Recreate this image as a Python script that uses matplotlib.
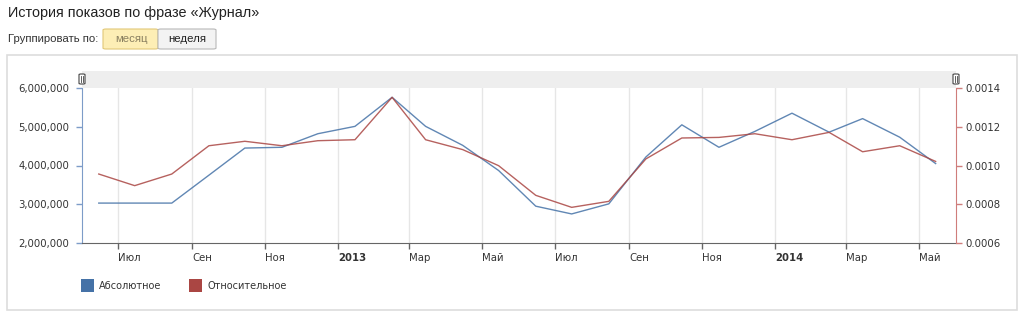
import datetime as dt
import matplotlib
matplotlib.use('Agg')
import matplotlib.pyplot as plt
import matplotlib.transforms as mtransforms
from matplotlib.patches import Rectangle, FancyBboxPatch

# monthly data, Jun 2012 .. May 2014 (points at mid month)
months = [(2012, m) for m in range(6, 13)] + [(2013, m) for m in range(1, 13)] + [(2014, m) for m in range(1, 6)]
absolute = [3.03e6, 3.03e6, 3.03e6, 3.75e6, 4.45e6, 4.47e6, 4.82e6,
            5.01e6, 5.76e6, 5.01e6, 4.52e6, 3.87e6, 2.95e6, 2.75e6,
            3.01e6, 4.22e6, 5.05e6, 4.47e6, 4.88e6, 5.35e6, 4.86e6,
            5.21e6, 4.73e6, 4.05e6]
relative = [0.000956, 0.000896, 0.000956, 0.001102, 0.001125, 0.001102, 0.001128,
            0.001133, 0.001352, 0.001133, 0.001082, 0.000999, 0.000846, 0.000784,
            0.000815, 0.001034, 0.001142, 0.001145, 0.001164, 0.001133, 0.001171,
            0.001071, 0.001102, 0.001021]

tick_months = [(2012, 7), (2012, 9), (2012, 11), (2013, 1), (2013, 3), (2013, 5),
               (2013, 7), (2013, 9), (2013, 11), (2014, 1), (2014, 3), (2014, 5)]
tick_labels = ['Июл', 'Сен', 'Ноя', '2013', 'Мар', 'Май',
               'Июл', 'Сен', 'Ноя', '2014', 'Мар', 'Май']
left_ticks = [2e6, 3e6, 4e6, 5e6, 6e6]
right_ticks = [0.0006, 0.0008, 0.0010, 0.0012, 0.0014]

dates = [dt.datetime(y, m, 15) for y, m in months]
tick_dates = [dt.datetime(y, m, 1) for y, m in tick_months]

BLUE = '#4572A7'
RED = '#AA4643'
W, H = 1024, 318

fig = plt.figure(figsize=(W / 100, H / 100), dpi=100)
fig.patch.set_facecolor('white')

def fx(px):
    return px / W

def fy(py):
    return 1 - py / H

# header
fig.text(fx(8), fy(13), 'История показов по фразе «Журнал»', fontsize=10.4,
         family='Liberation Sans', color='#222222', va='center', ha='left')
fig.text(fx(8), fy(39), 'Группировать по:', fontsize=8.2,
         family='Liberation Sans', color='#333333', va='center', ha='left')
fig.patches.append(FancyBboxPatch((fx(103), fy(49)), fx(55), 20 / H,
                                  boxstyle='round,pad=0,rounding_size=0.003',
                                  transform=fig.transFigure, facecolor='#fdeeb5',
                                  edgecolor='#e2c878', lw=0.8))
fig.patches.append(FancyBboxPatch((fx(158), fy(49)), fx(58), 20 / H,
                                  boxstyle='round,pad=0,rounding_size=0.003',
                                  transform=fig.transFigure, facecolor='#f3f3f3',
                                  edgecolor='#b8b8b8', lw=0.8))
fig.text(fx(131), fy(39), 'месяц', fontsize=8.2, family='Liberation Sans',
         color='#8a8060', va='center', ha='center')
fig.text(fx(187), fy(39), 'неделя', fontsize=8.2, family='Liberation Sans',
         color='#222222', va='center', ha='center')

# panel border
fig.patches.append(Rectangle((fx(7), fy(310)), fx(1010), (310 - 55) / H,
                             transform=fig.transFigure, facecolor='none',
                             edgecolor='#dddddd', lw=1.2))

# navigator band at the top of the plot
fig.patches.append(Rectangle((fx(82), fy(88)), fx(874), 17 / H,
                             transform=fig.transFigure, facecolor='#eeeeee',
                             edgecolor='none'))
for hx in [82, 956]:
    fig.patches.append(FancyBboxPatch((fx(hx - 3), fy(84)), fx(6), 10 / H,
                                      boxstyle='round,pad=0,rounding_size=0.002',
                                      transform=fig.transFigure, facecolor='white',
                                      edgecolor='#444444', lw=0.8))
    fig.lines.append(plt.Line2D([fx(hx - 0.8), fx(hx - 0.8)], [fy(82), fy(76)],
                                transform=fig.transFigure, color='#444444', lw=0.6))
    fig.lines.append(plt.Line2D([fx(hx + 0.8), fx(hx + 0.8)], [fy(82), fy(76)],
                                transform=fig.transFigure, color='#444444', lw=0.6))

ax = fig.add_axes([fx(82), fy(243), fx(956 - 82), (243 - 88) / H])
ax2 = ax.twinx()

ax.plot(dates, absolute, color=BLUE, lw=1, alpha=0.85)
ax2.plot(dates, relative, color=RED, lw=1, alpha=0.85)

ax.set_xlim(dt.datetime(2012, 6, 1), dt.datetime(2014, 6, 1))
ax.set_ylim(2e6, 6e6)
ax2.set_ylim(0.0006, 0.0014)

ax.set_xticks(tick_dates)
ax.set_xticklabels(tick_labels)
shift = mtransforms.ScaledTranslation(2 / 100, 0, fig.dpi_scale_trans)
for lbl in ax.get_xticklabels():
    lbl.set_horizontalalignment('left')
    lbl.set_transform(lbl.get_transform() + shift)
    if lbl.get_text().isdigit():
        lbl.set_fontweight('bold')
ax.grid(axis='x', color='#e6e6e6', lw=1)
ax.set_axisbelow(True)

ax.set_yticks(left_ticks)
ax.set_yticklabels(['{:,.0f}'.format(v) for v in left_ticks])
ax2.set_yticks(right_ticks)
ax2.set_yticklabels(['{:.4f}'.format(v) for v in right_ticks])

for a in (ax, ax2):
    a.spines['top'].set_visible(False)
    a.tick_params(labelsize=7.3, labelcolor='#333333', length=4, width=1)
ax.spines['left'].set_color('#7d9cc8')
ax.spines['right'].set_visible(False)
ax2.spines['left'].set_visible(False)
ax2.spines['bottom'].set_visible(False)
ax2.spines['right'].set_color('#cf7d7b')
ax.spines['bottom'].set_color('#666666')
ax.tick_params(axis='x', colors='#666666', labelcolor='#333333', pad=3)
ax.tick_params(axis='y', colors='#7d9cc8', labelcolor='#333333', pad=5)
ax2.tick_params(axis='y', colors='#cf7d7b', labelcolor='#333333', pad=3)

# legend
fig.patches.append(Rectangle((fx(81), fy(292)), fx(13), 13 / H,
                             transform=fig.transFigure, facecolor=BLUE, edgecolor='none'))
fig.patches.append(Rectangle((fx(189), fy(292)), fx(13), 13 / H,
                             transform=fig.transFigure, facecolor=RED, edgecolor='none'))
fig.text(fx(99), fy(286), 'Абсолютное', fontsize=7.0, color='#333333', va='center')
fig.text(fx(207), fy(286), 'Относительное', fontsize=7.0, color='#333333', va='center')

fig.savefig('out.png', dpi=100)
